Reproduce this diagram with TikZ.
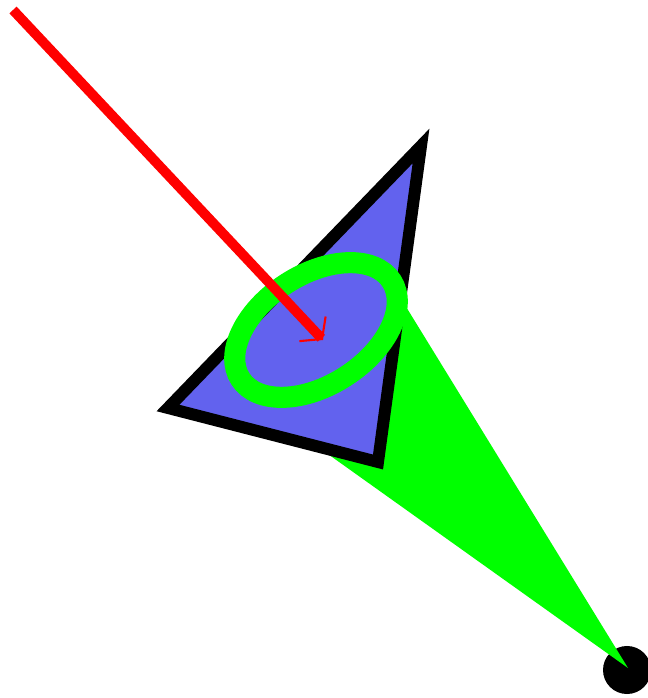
\documentclass[tikz,border=0pt]{standalone}
\usetikzlibrary{arrows.meta}
\definecolor{triblue}{RGB}{98,98,238}
\definecolor{conegreen}{RGB}{0,255,0}
\definecolor{rayred}{RGB}{255,0,0}
\begin{document}
\begin{tikzpicture}[x=0.01cm,y=-0.01cm,
  tri/.style={fill=triblue, draw=black, line width=3.4pt},
  ring/.style={draw=conegreen, line width=6pt},
  cone/.style={fill=conegreen},
  ray/.style={draw=rayred, line width=2.8pt, -{Straight Barb[length=0.14cm, width=0.36cm, line width=0.6pt]}},
  pivot/.style={fill=black}]
\useasboundingbox (0,0) rectangle (647,698);
\coordinate (T) at (421,146);
\coordinate (L) at (168,408);
\coordinate (B) at (378,462);
\coordinate (E) at (316,330);
\coordinate (P) at (627,670);
\coordinate (A) at (628,668);
\coordinate (R) at (400,297);
\coordinate (Q) at (290,427);
\coordinate (S) at (13,10);
\coordinate (H) at (323,340);
\fill[pivot] (P) circle[radius=0.24cm];
\fill[cone] (A) -- (R) -- (Q) -- cycle;
\draw[tri] (T) -- (L) -- (B) -- cycle;
\draw[ring, shift={(E)}, rotate=33] (0,0) ellipse[x radius=0.90cm, y radius=0.55cm];
\draw[ray] (S) -- (H);
\end{tikzpicture}
\end{document}
